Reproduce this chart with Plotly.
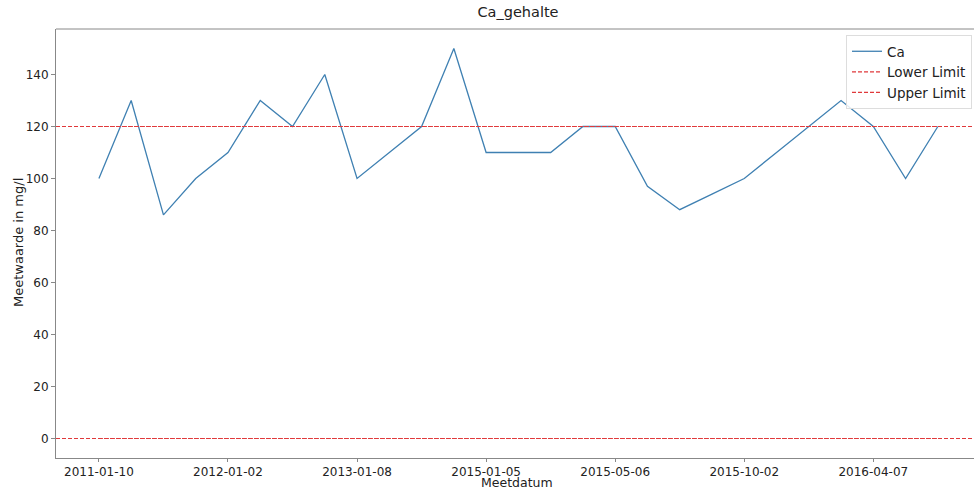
import plotly.graph_objects as go

dates = ["2011-01-10", "2011-04-11", "2011-07-04", "2011-10-03",
         "2012-01-02", "2012-04-02", "2012-07-09", "2012-10-01",
         "2013-01-08", "2013-07-01", "2014-01-06", "2014-07-07",
         "2015-01-05", "2015-02-02", "2015-03-02", "2015-04-07",
         "2015-05-06", "2015-06-01", "2015-07-06", "2015-08-03",
         "2015-10-02", "2015-11-02", "2015-12-07", "2016-02-01",
         "2016-04-07", "2016-06-06", "2016-08-01"]
ca = [100, 130, 86, 100, 110, 130, 120, 140, 100, 110, 120, 150, 110, 110,
      110, 120, 120, 97, 88, 94, 100, 110, 120, 130, 120, 100, 120]
lower_limit = 0
upper_limit = 120
tick_labels = ["2011-01-10", "2012-01-02", "2013-01-08", "2015-01-05",
               "2015-05-06", "2015-10-02", "2016-04-07"]
y_ticks = [0, 20, 40, 60, 80, 100, 120, 140]

font = "DejaVu Sans"
blue = "#3f80b2"
red = "#e0393b"
dash = "4px,2px"

W, H = 974, 490
L, R, T, B = 56, 0, 29, 32

fig = go.Figure()
fig.add_trace(go.Scatter(x=dates, y=ca, mode="lines", name="Ca",
                         line=dict(color=blue, width=1.3)))
fig.add_trace(go.Scatter(x=dates, y=[lower_limit] * len(dates), mode="lines",
                         name="Lower Limit",
                         line=dict(color=red, width=1.2, dash=dash)))
fig.add_trace(go.Scatter(x=dates, y=[upper_limit] * len(dates), mode="lines",
                         name="Upper Limit",
                         line=dict(color=red, width=1.2, dash=dash)))

shapes = [
    dict(type="line", xref="paper", yref="y", x0=0, x1=1, y0=lower_limit, y1=lower_limit,
         line=dict(color=red, width=1.2, dash=dash)),
    dict(type="line", xref="paper", yref="y", x0=0, x1=1, y0=upper_limit, y1=upper_limit,
         line=dict(color=red, width=1.2, dash=dash)),
    dict(type="line", xref="paper", yref="paper", x0=0, x1=1, y0=1, y1=1,
         line=dict(color="#888", width=1)),
]

pw = W - L - R
ph = H - T - B

fig.update_layout(
    width=W, height=H,
    margin=dict(l=L, r=R, t=T, b=B, autoexpand=False),
    paper_bgcolor="white", plot_bgcolor="white",
    font=dict(family=font, size=12, color="#222"),
    title=dict(text="Ca_gehalte", x=518 / W, xanchor="center",
               y=1 - 12 / H, yanchor="middle",
               font=dict(family=font, size=14.5, color="#222")),
    showlegend=True,
    legend=dict(x=(846 - L) / pw, xanchor="left", y=1 - 6 / ph, yanchor="top",
                bgcolor="rgba(255,255,255,0.85)", bordercolor="#dddddd",
                borderwidth=1, font=dict(family=font, size=13.5, color="#222"),
                tracegroupgap=0, itemwidth=30),
    xaxis=dict(type="category", range=[-1.33, 27.12], automargin=False,
               tickmode="array", tickvals=tick_labels, ticktext=tick_labels,
               showgrid=False, zeroline=False, showline=True,
               linecolor="#888", linewidth=1, ticks="outside", ticklen=3,
               tickcolor="#888", tickfont=dict(family=font, size=12, color="#222")),
    yaxis=dict(range=[-7.5, 157.5], tickvals=y_ticks, automargin=False,
               showgrid=False, zeroline=False, showline=True,
               linecolor="#888", linewidth=1, ticks="outside", ticklen=4,
               tickcolor="#888", tickfont=dict(family=font, size=12, color="#222")),
    shapes=shapes,
    annotations=[
        dict(text="Meetdatum", xref="paper", yref="paper",
             x=(517 - L) / pw, y=-(483 - (T + ph)) / ph, xanchor="center",
             yanchor="middle", showarrow=False,
             font=dict(family=font, size=12.5, color="#222")),
        dict(text="Meetwaarde in mg/l", xref="paper", yref="paper",
             x=-(L - 18) / pw, y=(H - B - 243) / ph, xanchor="center",
             yanchor="middle", showarrow=False, textangle=-90,
             font=dict(family=font, size=13, color="#222")),
    ],
)

fig.write_html("out.html", config={"displayModeBar": False},
               post_script="document.body.style.margin='0px';document.body.style.padding='0px';")
